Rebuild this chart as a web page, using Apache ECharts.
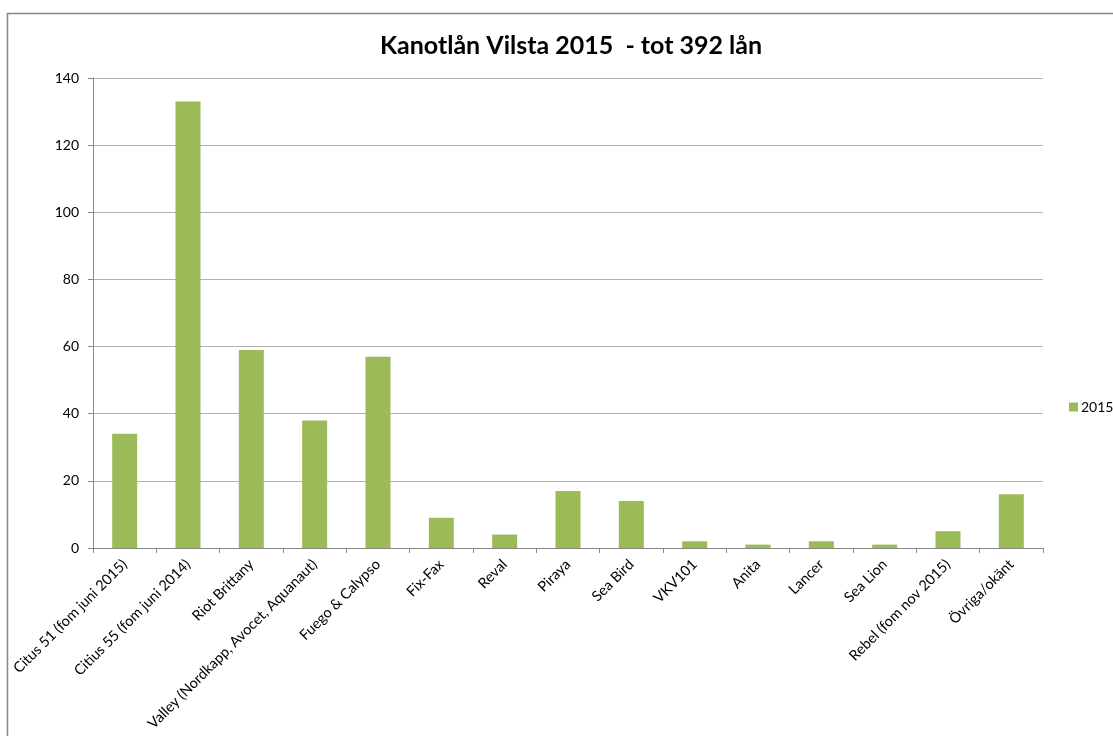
<!DOCTYPE html>
<html>
<head>
<meta charset="utf-8">
<script src="https://cdn.jsdelivr.net/npm/echarts@6/dist/echarts.min.js"></script>
<style>
html,body{margin:0;padding:0;background:#fff;}
#main{width:1113px;height:736px;}
</style>
</head>
<body>
<div id="main"></div>
<script>
const categories = [
  "Citus 51 (fom juni 2015)",
  "Citius 55 (fom juni 2014)",
  "Riot Brittany",
  "Valley (Nordkapp, Avocet, Aquanaut)",
  "Fuego & Calypso",
  "Fix-Fax",
  "Reval",
  "Piraya",
  "Sea Bird",
  "VKV101",
  "Anita",
  "Lancer",
  "Sea Lion",
  "Rebel (fom nov 2015)",
  "Övriga/okänt"
];
const values2015 = [34, 133, 59, 38, 57, 9, 4, 17, 14, 2, 1, 2, 1, 5, 16];
const seriesName = "2015";
const titleText = "Kanotlån Vilsta 2015  - tot 392 lån";

const chart = echarts.init(document.getElementById('main'));
const font = "Lato, 'Open Sans', sans-serif";
chart.setOption({
  animation: false,
  backgroundColor: '#fff',
  graphic: [{
    type: 'rect',
    shape: {x: 7.5, y: 13.5, width: 1200, height: 800},
    style: {fill: 'none', stroke: '#868686', lineWidth: 1.5},
    silent: true
  }],
  title: {
    text: titleText,
    left: 566,
    textAlign: 'center',
    top: 28,
    textStyle: {fontFamily: font, fontSize: 25, fontWeight: 'bold', color: '#000'}
  },
  legend: {
    data: [seriesName],
    left: 1064,
    top: 395,
    orient: 'vertical',
    itemWidth: 9,
    itemHeight: 9,
    itemGap: 4,
    icon: 'rect',
    textStyle: {fontFamily: font, fontSize: 14, color: '#000', padding: [0,0,0,-2]}
  },
  grid: {left: 93, right: 70, top: 78, bottom: 188, containLabel: false},
  xAxis: {
    type: 'category',
    data: categories,
    axisLine: {lineStyle: {color: '#888', width: 1}},
    axisTick: {show: true, alignWithLabel: false, length: 5, lineStyle: {color: '#888'}},
    axisLabel: {rotate: 45, interval: 0, fontFamily: font, fontSize: 14.5, color: '#000', margin: 14}
  },
  yAxis: {
    type: 'value',
    min: 0, max: 140, interval: 20,
    axisLine: {show: true, lineStyle: {color: '#888', width: 1}},
    axisTick: {show: true, inside: false, length: 5, lineStyle: {color: '#888'}},
    axisLabel: {fontFamily: font, fontSize: 14, color: '#000', margin: 14},
    splitLine: {lineStyle: {color: '#b3b3b3', width: 1}}
  },
  series: [{
    name: seriesName,
    type: 'bar',
    data: values2015,
    barWidth: 25,
    itemStyle: {color: '#9BBB59'}
  }]
});
</script>
</body>
</html>
